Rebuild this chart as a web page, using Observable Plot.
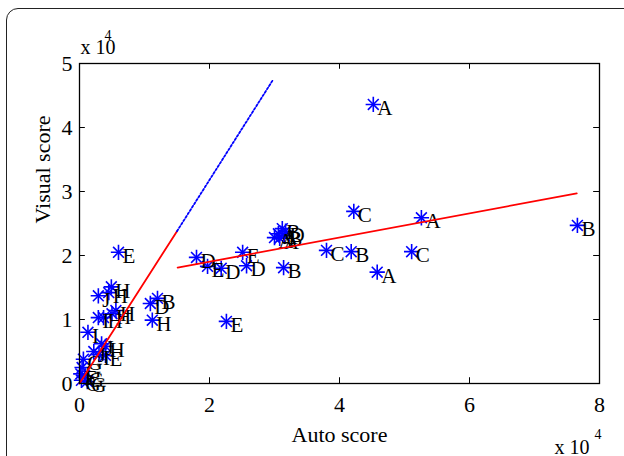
<!DOCTYPE html>
<html>
<head>
<meta charset="utf-8">
<script src="https://cdn.jsdelivr.net/npm/d3@7"></script>
<script src="https://cdn.jsdelivr.net/npm/@observablehq/plot@0.6"></script>
<style>
  html, body { margin: 0; padding: 0; background: #fff; overflow: hidden; }
  #wrap { position: relative; width: 624px; height: 456px; }
  #wrap svg, #wrap svg text { font-family: "Liberation Serif", "Times New Roman", serif !important; }
  #border { position: absolute; left: 6px; top: 8px; width: 630px; height: 470px;
            border: 1.3px solid #222; border-radius: 12px; box-sizing: border-box; pointer-events: none; }
</style>
</head>
<body>
<div id="wrap"><div id="border"></div></div>
<script>
// Values in units of 10^4
const labels = ["A","C","A","B","C","B","C","A","B",
  "A","A","B","D","B","A",
  "D","E","D","E","D","E","E","B","D","H",
  "H","J","H","H","H","I","H","I","J","H","J","E","I","G","G","G","G","G","F"];
const autoScore = [4.52,4.22,5.26,7.66,3.80,4.18,5.11,4.58,3.14,
  3.00,3.06,3.12,3.17,3.15,3.08,
  1.80,1.97,2.18,2.51,2.57,2.26,0.60,1.20,1.09,1.12,
  0.49,0.29,0.45,0.56,0.50,0.29,0.37,0.13,0.34,0.40,0.22,0.40,0.30,0.06,0.04,0.08,0.03,0.12,0.02];
const visualScore = [4.36,2.69,2.59,2.47,2.08,2.06,2.06,1.74,1.81,
  2.28,2.34,2.42,2.38,2.31,2.27,
  1.97,1.83,1.80,2.05,1.84,0.97,2.05,1.33,1.25,0.99,
  1.51,1.37,1.42,1.14,1.09,1.03,1.03,0.80,0.62,0.58,0.50,0.44,0.45,0.38,0.25,0.12,0.05,0.03,0.15];

// Fitted lines
const fitLowX = [0, 1.5];
const fitLowY = [0, 2.38];
const extLowX = [1.5, 2.98];
const extLowY = [2.38, 4.75];
const fitHighX = [1.51, 7.65];
const fitHighY = [1.81, 2.97];

const xTicks = [0, 2, 4, 6, 8];
const yTicks = [0, 1, 2, 3, 4, 5];
const innerXTicks = [2, 4, 6];
const innerYTicks = [1, 2, 3, 4];

const points = labels.map((l, i) => ({label: l, x: autoScore[i], y: visualScore[i]}));
const seg = (xs, ys) => xs.map((x, i) => ({x, y: ys[i]}));

const serif = "'Liberation Serif', 'Times New Roman', serif";
const blue = "#0000ff", red = "#ff0000";

const chart = Plot.plot({
  width: 624,
  height: 456,
  marginLeft: 79,
  marginRight: 25,
  marginTop: 63,
  marginBottom: 73,
  style: {fontFamily: serif, fontSize: "22px", background: "transparent", color: "#000"},
  x: {domain: [0, 8], ticks: xTicks, label: null},
  y: {domain: [0, 5], ticks: yTicks, label: null},
  marks: [
    Plot.axisX({ticks: xTicks, tickFormat: d => String(d), tickSize: 0, tickPadding: 13, fontSize: 22, fontFamily: serif, label: null}),
    Plot.axisY({ticks: yTicks, tickFormat: d => String(d), tickSize: 0, tickPadding: 7, fontSize: 22, fontFamily: serif, label: null}),
    // inward ticks
    Plot.ruleX(innerXTicks, {y1: 0, y2: 0.09, stroke: "#000", strokeWidth: 1}),
    Plot.ruleX(innerXTicks, {y1: 4.91, y2: 5, stroke: "#000", strokeWidth: 1}),
    Plot.ruleY(innerYTicks, {x1: 0, x2: 0.09, stroke: "#000", strokeWidth: 1}),
    Plot.ruleY(innerYTicks, {x1: 7.91, x2: 8, stroke: "#000", strokeWidth: 1}),
    // asterisk markers
    Plot.dot(points, {x: "x", y: "y", symbol: "plus", r: 5, stroke: blue, strokeWidth: 1.6}),
    Plot.dot(points, {x: "x", y: "y", symbol: "times", r: 5, stroke: blue, strokeWidth: 1.6}),
    Plot.text(points, {x: "x", y: "y", text: "label", textAnchor: "start", dx: 4, dy: 4,
      fontSize: 21, fontFamily: serif, fill: "#000"}),
    // lines
    Plot.line(seg(fitLowX, fitLowY), {x: "x", y: "y", stroke: red, strokeWidth: 1.8}),
    Plot.line(seg(extLowX, extLowY), {x: "x", y: "y", stroke: blue, strokeWidth: 1.8, strokeDasharray: "2,2"}),
    Plot.line(seg(fitHighX, fitHighY), {x: "x", y: "y", stroke: red, strokeWidth: 1.8}),
    Plot.frame({stroke: "#000", strokeWidth: 1.3}),
    // axis titles
    Plot.text(["Auto score"], {frameAnchor: "bottom", text: d => d, dy: 58, fontSize: 22, fontFamily: serif}),
    Plot.text(["Visual score"], {frameAnchor: "left", text: d => d, rotate: -90, dx: -37, fontSize: 22, fontFamily: serif}),
    // exponent labels
    Plot.text(["x 10"], {frameAnchor: "top-left", text: d => d, textAnchor: "start", lineAnchor: "bottom", dx: 1, dy: -10, fontSize: 20, fontFamily: serif}),
    Plot.text(["4"], {frameAnchor: "top-left", text: d => d, textAnchor: "start", lineAnchor: "bottom", dx: 25, dy: -24, fontSize: 14, fontFamily: serif}),
    Plot.text(["x 10"], {frameAnchor: "bottom-right", text: d => d, textAnchor: "end", lineAnchor: "bottom", dx: -10, dy: 70, fontSize: 20, fontFamily: serif}),
    Plot.text(["4"], {frameAnchor: "bottom-right", text: d => d, textAnchor: "start", lineAnchor: "bottom", dx: -5, dy: 55, fontSize: 14, fontFamily: serif})
  ]
});
document.getElementById("wrap").insertBefore(chart, document.getElementById("border"));
</script>
</body>
</html>
